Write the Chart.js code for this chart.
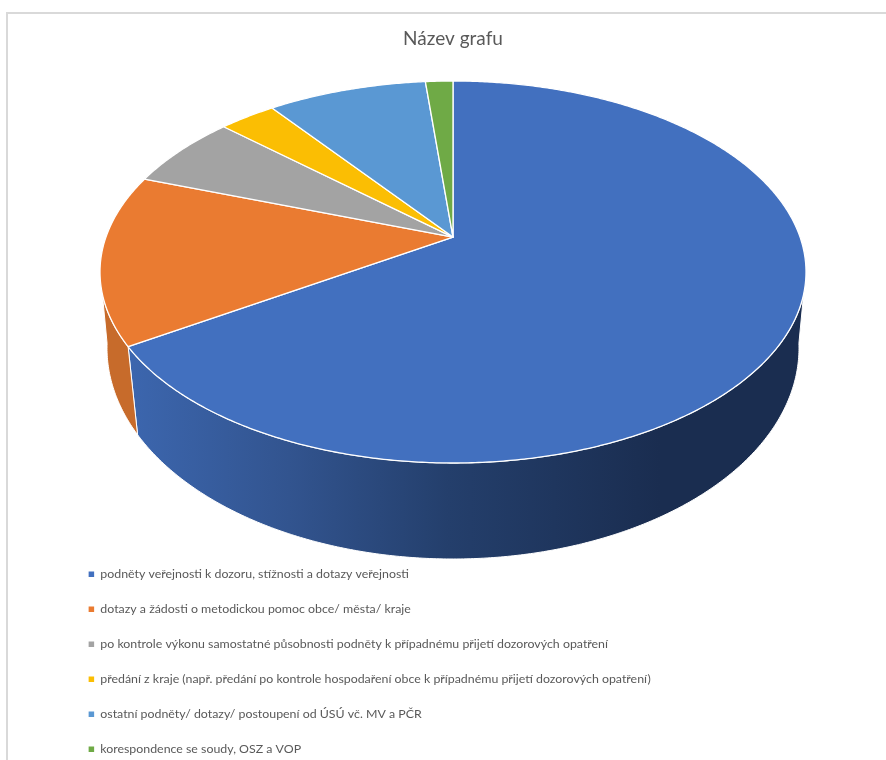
<!DOCTYPE html>
<html lang="cs">
<head>
  <meta charset="UTF-8">
  <title>Název grafu</title>
  <style>
    html, body { margin: 0; padding: 0; background: #fff; overflow: hidden; }
    #frame { position: absolute; left: 6px; top: 12px; right: 0; bottom: 0; border: solid #d9d9d9; border-width: 2px 0 0 2px; }
    #pie { position: absolute; left: 0; top: 0; }
  </style>
</head>
<body>
  <div id="frame"></div>
  <canvas id="pie" width="886" height="760"></canvas>

  <script src="https://cdn.jsdelivr.net/npm/chart.js"></script>
  <script>
    const chartTitle = 'Název grafu';
    const categories = [
      'podněty veřejnosti k dozoru, stížnosti a dotazy veřejnosti',
      'dotazy a žádosti o metodickou pomoc obce/ města/ kraje',
      'po kontrole výkonu samostatné působnosti podněty k případnému přijetí dozorových opatření',
      'předání z kraje (např. předání po kontrole hospodaření obce k případnému přijetí dozorových opatření)',
      'ostatní podněty/ dotazy/ postoupení od ÚSÚ vč. MV a PČR',
      'korespondence se soudy, OSZ a VOP'
    ];
    const values = [66, 14.4, 6.3, 3.1, 8.7, 1.5];
    const colors = ['#4270BF', '#EA7B31', '#A3A3A3', '#FBBE03', '#5A98D3', '#6FAA46'];

    // the tilted disc: an ellipse for the top face and one for the bottom face,
    // skew moves the pie's centre off the ellipse centre (perspective)
    const topFace = { cx: 453, cy: 272, rx: 353, ry: 191, skew: -0.183, from: 17, to: 163 };
    const bottomFace = { cx: 453, cy: 348, rx: 346, ry: 211, skew: -0.16, from: 8, to: 172 };

    function project(face, angle, r = 1) {
      const u = Math.cos(angle) * r, v = Math.sin(angle) * r;
      const den = 1 + face.skew * v;
      return {
        x: face.cx + face.rx * u * Math.sqrt(1 - face.skew * face.skew) / den,
        y: face.cy + face.ry * (v + face.skew) / den
      };
    }

    function arcPoints(face, start, end) {
      const pts = [];
      const steps = Math.max(2, Math.ceil((end - start) * 120));
      for (let i = 0; i <= steps; i++) pts.push(project(face, start + (end - start) * i / steps));
      return pts;
    }

    function sideFill(ctx, i) {
      if (i !== 0) return '#C76B2B';
      const g = ctx.createLinearGradient(130, 0, 660, 0);
      g.addColorStop(0, '#3C66AE');
      g.addColorStop(0.3, '#32548F');
      g.addColorStop(0.6, '#243F6C');
      g.addColorStop(1, '#1A2D50');
      return g;
    }

    const deg = Math.PI / 180;

    // Chart.js keeps working out the slice angles, this only draws them tilted
    const tiltedPie = {
      id: 'tiltedPie',
      beforeDatasetDraw(chart, args) {
        const { ctx } = chart;
        const arcs = args.meta.data;
        ctx.save();
        ctx.lineJoin = 'round';

        arcs.forEach((arc, i) => {
          const topStart = Math.max(arc.startAngle, topFace.from * deg);
          const topEnd = Math.min(arc.endAngle, topFace.to * deg);
          const botStart = Math.max(arc.startAngle, bottomFace.from * deg);
          const botEnd = Math.min(arc.endAngle, bottomFace.to * deg);
          if (topStart >= topEnd) return;
          const pts = arcPoints(topFace, topStart, topEnd)
            .concat(arcPoints(bottomFace, botStart, botEnd).reverse());
          ctx.beginPath();
          pts.forEach((p, k) => (k ? ctx.lineTo(p.x, p.y) : ctx.moveTo(p.x, p.y)));
          ctx.closePath();
          ctx.fillStyle = sideFill(ctx, i);
          ctx.fill();
          ctx.strokeStyle = '#fff';
          ctx.lineWidth = 1;
          ctx.stroke();
        });

        arcs.forEach((arc, i) => {
          const c = project(topFace, 0, 0);
          ctx.beginPath();
          ctx.moveTo(c.x, c.y);
          arcPoints(topFace, arc.startAngle, arc.endAngle).forEach(p => ctx.lineTo(p.x, p.y));
          ctx.closePath();
          ctx.fillStyle = colors[i];
          ctx.fill();
          ctx.strokeStyle = '#fff';
          ctx.lineWidth = 1.3;
          ctx.stroke();
        });

        ctx.restore();
        return false;
      }
    };

    new Chart(document.getElementById('pie').getContext('2d'), {
      type: 'pie',
      plugins: [tiltedPie],
      data: {
        labels: categories,
        datasets: [{ data: values, backgroundColor: colors, borderWidth: 0 }]
      },
      options: {
        responsive: false,
        animation: false,
        layout: { padding: { left: 66, right: 46, top: 29, bottom: -18 } },
        plugins: {
          tooltip: { enabled: false },
          title: {
            display: true,
            text: chartTitle,
            color: '#595959',
            font: { family: 'Lato', size: 19, weight: 'normal', lineHeight: 1 },
            padding: { top: 0, bottom: 10 }
          },
          legend: {
            position: 'left',
            align: 'end',
            maxWidth: 760,
            labels: {
              boxWidth: 5.5,
              boxHeight: 5.5,
              padding: 22.625,
              color: '#595959',
              font: { family: 'Lato', size: 12.375 }
            }
          }
        }
      }
    });
  </script>
</body>
</html>
